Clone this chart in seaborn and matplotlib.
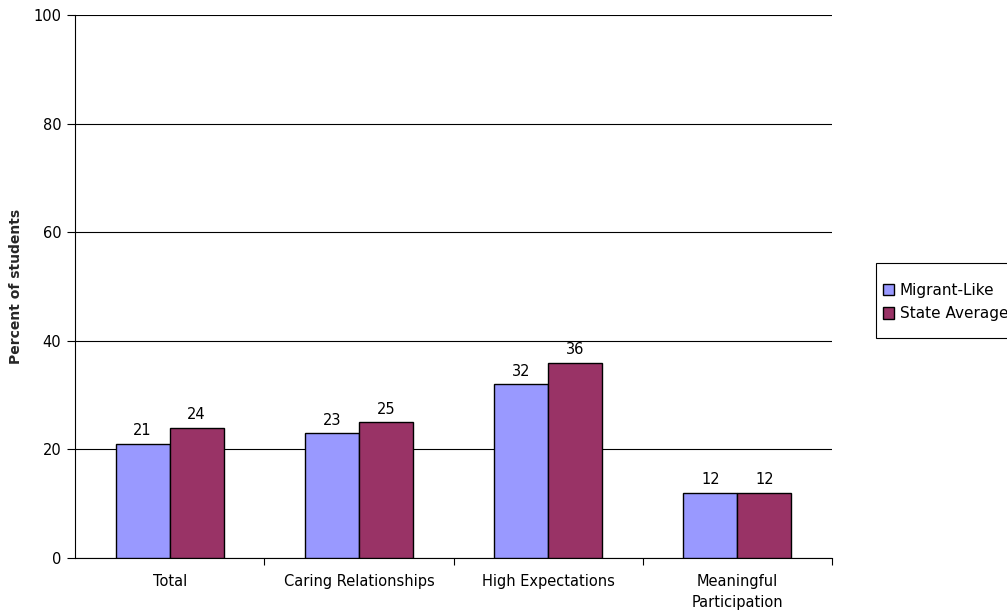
import matplotlib
matplotlib.use('Agg')
import matplotlib.pyplot as plt
from matplotlib.ticker import FixedLocator
import pandas as pd
import seaborn as sns

categories = ['Total', 'Caring Relationships', 'High Expectations', 'Meaningful\nParticipation']
migrant_like = [21, 23, 32, 12]
state_average = [24, 25, 36, 12]
series_names = ['Migrant-Like', 'State Average']
colors = ['#9999ff', '#993366']

df = pd.DataFrame({
  'category': categories * 2,
  'value': migrant_like + state_average,
  'group': [series_names[0]] * 4 + [series_names[1]] * 4,
})

sns.set_style('white')
plt.rcParams['font.family'] = ['DejaVu Sans']
plt.rcParams['text.color'] = 'black'
plt.rcParams['xtick.color'] = 'black'
plt.rcParams['ytick.color'] = 'black'
fs = 10.5

fig = plt.figure(figsize=(10.07, 6.12), dpi=100)
ax = fig.add_axes([0.0745, 0.0882, 0.7517, 0.8873])

sns.barplot(data=df, x='category', y='value', hue='group', palette=colors,
            width=0.57, edgecolor='black', linewidth=1, saturation=1, ax=ax,
            legend=False, zorder=3)

for c in ax.containers:
  ax.bar_label(c, fmt='%d', padding=4, fontsize=fs)

ax.set_ylim(0, 100)
ax.set_xlim(-0.5, 3.5)
ax.set_yticks([0, 20, 40, 60, 80, 100])
ax.yaxis.grid(True, color='black', linewidth=0.8, zorder=0)
ax.set_axisbelow(True)
ax.tick_params(axis='y', which='major', left=True, length=6, width=0.8, labelsize=fs, pad=4)
ax.tick_params(axis='x', which='major', bottom=False, labelsize=fs, pad=8)
for t in ax.get_xticklabels():
  t.set_linespacing(1.5)
ax.xaxis.set_minor_locator(FixedLocator([0.5, 1.5, 2.5, 3.5]))
ax.tick_params(axis='x', which='minor', bottom=True, length=5, width=0.8)

for s in ['top', 'right']:
  ax.spines[s].set_visible(False)
for s in ['left', 'bottom']:
  ax.spines[s].set_color('black')
  ax.spines[s].set_linewidth(0.8)

ax.set_xlabel('')
ax.set_ylabel('Percent of students', fontsize=fs - 0.5, fontweight='bold', labelpad=7)

# legend box drawn by hand so the padding can differ in x and y
fig.patches.append(plt.Rectangle((876 / 1007, 1 - 338 / 612), 0.2, 75 / 612,
                                 transform=fig.transFigure, facecolor='white',
                                 edgecolor='black', linewidth=0.8))
handles = [plt.Rectangle((0, 0), 1, 1, facecolor=col, edgecolor='black', linewidth=1)
           for col in colors]
leg = fig.legend(handles, series_names, loc='upper left',
                 bbox_to_anchor=(883 / 1007, 1 - 283 / 612),
                 fontsize=fs + 0.5, frameon=False,
                 handlelength=0.75, handleheight=0.75, handletextpad=0.35,
                 labelspacing=0.55, borderpad=0, borderaxespad=0)

fig.savefig('out.png', dpi=100)
